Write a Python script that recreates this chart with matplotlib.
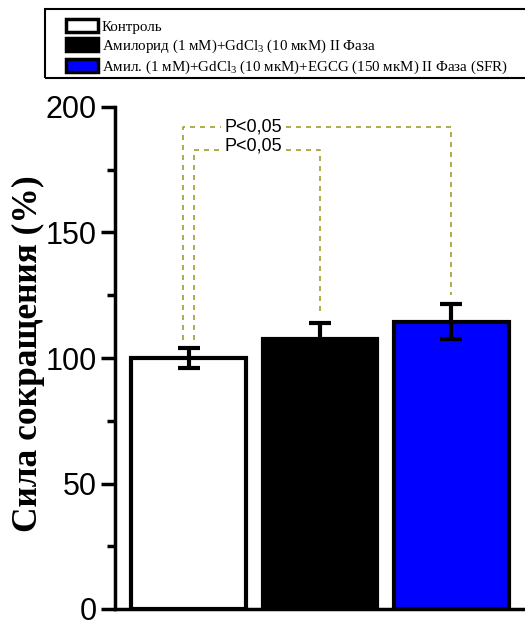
import matplotlib
matplotlib.use("Agg")
import matplotlib.pyplot as plt
from matplotlib.patches import Rectangle, Patch
from matplotlib.ticker import MultipleLocator

plt.rcParams['mathtext.fontset'] = 'custom'
plt.rcParams['mathtext.rm'] = 'Liberation Serif'
plt.rcParams['mathtext.it'] = 'Liberation Serif:italic'

labels = ["Контроль",
          "Амилорид (1 мМ)+GdCl$_3$ (10 мкМ) II Фаза",
          "Амил. (1 мМ)+GdCl$_3$ (10 мкМ)+EGCG (150 мкМ) II Фаза (SFR)"]
values = [100, 107.5, 114.5]
errors = [4, 6.5, 7]
colors = ["white", "black", "#0000FF"]
ylabel = "Сила сокращения (%)"
sig_text = "P<0,05"
# significance brackets: (left bar, right bar, level)
sig_pairs = [(0, 2, 192), (0, 1, 183)]
sig_drop = {0: 107, 1: 117, 2: 125}

fig = plt.figure(figsize=(5.25, 6.26), dpi=100)
y0, y200 = 609, 107
ax = fig.add_axes([115/525, 1-y0/626, 1-115/525 + 0.01, (y0-y200)/626])

x = range(len(values))
ax.bar(x, values, width=0.87, color=colors, edgecolor="black", linewidth=3, zorder=2)
ax.errorbar(x, values, yerr=errors, fmt="none", ecolor="black", elinewidth=3,
            capsize=8, capthick=3, zorder=3)

ax.set_xlim(-0.56, 2.6)
ax.set_ylim(0, 200)
ax.spines['top'].set_visible(False)
ax.spines['right'].set_visible(False)
ax.spines['left'].set_linewidth(2.5)
ax.spines['bottom'].set_linewidth(2.5)
ax.set_xticks([])
ax.yaxis.set_major_locator(MultipleLocator(50))
ax.yaxis.set_minor_locator(MultipleLocator(25))
ax.tick_params(axis='y', which='major', length=10, width=2.5, pad=3, labelsize=22)
ax.tick_params(axis='y', which='minor', length=6, width=2.5)
for t in ax.get_yticklabels():
    t.set_fontfamily("Liberation Sans")
fig.text(28/525, 1-354/626, ylabel, rotation=90, ha="center", va="center",
         fontfamily="Liberation Serif", fontweight="bold", fontsize=25.5)

dash_color = "#a0a030"
text_x = 0.49
for (i, j, yl), xoff, ty in zip(sig_pairs, [0.0, 0.08], [0, 1.6]):
    xl = i - 0.04 + xoff
    xr = j + 0.0
    ax.plot([xl, xl, 0.25], [sig_drop[i], yl, yl], ls=(0, (3, 3)), color=dash_color, lw=1.2, clip_on=False, zorder=1)
    ax.plot([0.74, xr, xr], [yl, yl, sig_drop[j]], ls=(0, (3, 3)), color=dash_color, lw=1.2, clip_on=False, zorder=1)
    ax.text(text_x, yl + ty, sig_text, ha="center", va="center", fontsize=13, fontfamily="Liberation Sans")

handles = [Patch(facecolor=c, edgecolor="black", linewidth=2.5) for c in colors]
leg = fig.legend(handles, labels, loc="upper left", bbox_to_anchor=(66/525, 1-19/626),
                 frameon=False, prop={"family": "Liberation Serif", "size": 10.8},
                 handlelength=2.1, handleheight=0.95, handletextpad=0.3, labelspacing=0.25,
                 borderaxespad=0, borderpad=0.0)
fig.patches.append(Rectangle((45/525, 1-78/626), 1.0, 69/626, transform=fig.transFigure,
                             fill=False, edgecolor="black", linewidth=1.5))

fig.savefig("out.png", dpi=100)
